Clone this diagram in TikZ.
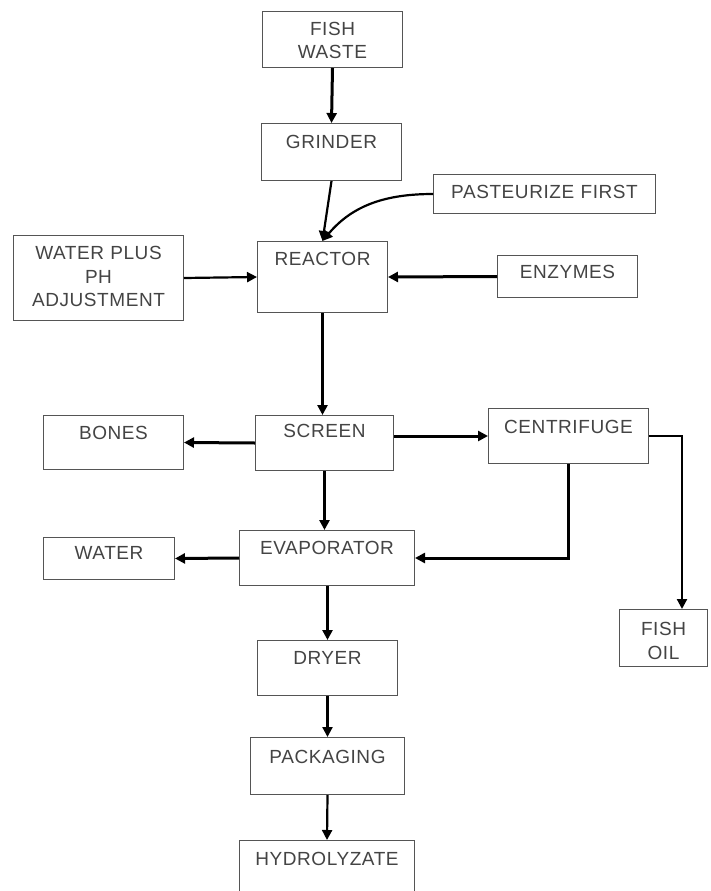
\documentclass[tikz,border=0pt]{standalone}
\usepackage{fontspec}
\setmainfont{Liberation Sans}[LetterSpace=3]
\usepackage{tikz}
\usetikzlibrary{arrows.meta}
\definecolor{boxline}{HTML}{555555}
\definecolor{boxtext}{HTML}{444444}

\begin{document}
\begin{tikzpicture}[x=1pt,y=1pt,
  blk/.style={draw=boxline, line width=1pt, inner sep=0pt, anchor=north west,
    align=center, text=boxtext, font=\fontsize{19}{23.5}\selectfont},
  flow/.style={-{Triangle[length=10pt,width=10pt]}, line width=2.2pt},
  heavy/.style={flow, line width=3pt}]
  \useasboundingbox (0,0) rectangle (710,-891);
  \clip (0,0) rectangle (710,-891);
  \fill[white] (0,0) rectangle (710,-891);
  % main line
  \node[blk, text width=140pt, text height=24pt, text depth=32pt] (waste) at (262,-11) {FISH\\WASTE};
  \node[blk, text width=140pt, text height=25pt, text depth=32pt] (grinder) at (261,-123) {GRINDER};
  \node[blk, text width=130pt, text height=24pt, text depth=47pt] (reactor) at (257,-241) {REACTOR};
  \node[blk, text width=138pt, text height=22pt, text depth=33pt] (screen) at (255,-415) {SCREEN};
  \node[blk, text width=175pt, text height=24pt, text depth=31pt] (evap) at (239,-530) {EVAPORATOR};
  \node[blk, text width=140pt, text height=24pt, text depth=31pt] (dryer) at (257,-640) {DRYER};
  \node[blk, text width=154pt, text height=26pt, text depth=31pt] (pack) at (250,-737) {PACKAGING};
  \node[blk, text width=175pt, text height=25pt, text depth=40pt] (hydro) at (239,-840) {HYDROLYZATE};
  % inputs and side streams
  \node[blk, text width=222pt, text height=24pt, text depth=15pt] (past) at (433,-174) {PASTEURIZE FIRST};
  \node[blk, text width=170pt, text height=24pt, text depth=61pt] (wph) at (13,-235) {WATER PLUS\\PH\\ADJUSTMENT};
  \node[blk, text width=140pt, text height=23pt, text depth=19pt] (enz) at (497,-255) {ENZYMES};
  \node[blk, text width=140pt, text height=24pt, text depth=30pt] (bones) at (43,-415) {BONES};
  \node[blk, text width=160pt, text height=25pt, text depth=30pt] (cent) at (488,-408) {CENTRIFUGE};
  \node[blk, text width=131pt, text height=22pt, text depth=20pt] (water) at (43,-537) {WATER};
  \node[blk, text width=88pt, text height=26pt, text depth=31pt] (oil) at (619,-609) {FISH\\OIL};
  % flows
  \draw[heavy] (waste.south) -- (grinder.north);
  \draw[flow] (grinder.south) -- (reactor.north);
  \draw[flow] (past.west) to[out=180,in=50] (reactor.north);
  \draw[flow] (wph.east) -- (reactor.west);
  \draw[heavy] (enz.west) -- (reactor.east);
  \draw[heavy] (reactor.south) -- (reactor.south |- screen.north);
  \draw[heavy] (screen.west) -- (bones.east);
  \draw[heavy] (screen.east |- cent.west) -- (cent.west);
  \draw[heavy] (screen.south) -- (screen.south |- evap.north);
  \coordinate (oilx) at (682,0);
  \draw[flow] (cent.east) -| (oilx |- oil.north);
  \coordinate (evx) at (568,0);
  \draw[heavy] (evx |- cent.south) |- (evap.east);
  \draw[heavy] (evap.west) -- (water.east);
  \draw[heavy] (evap.south -| dryer.north) -- (dryer.north);
  \draw[flow] (dryer.south) -- (pack.north);
  \draw[flow] (pack.south) -- (hydro.north);
\end{tikzpicture}
\end{document}
